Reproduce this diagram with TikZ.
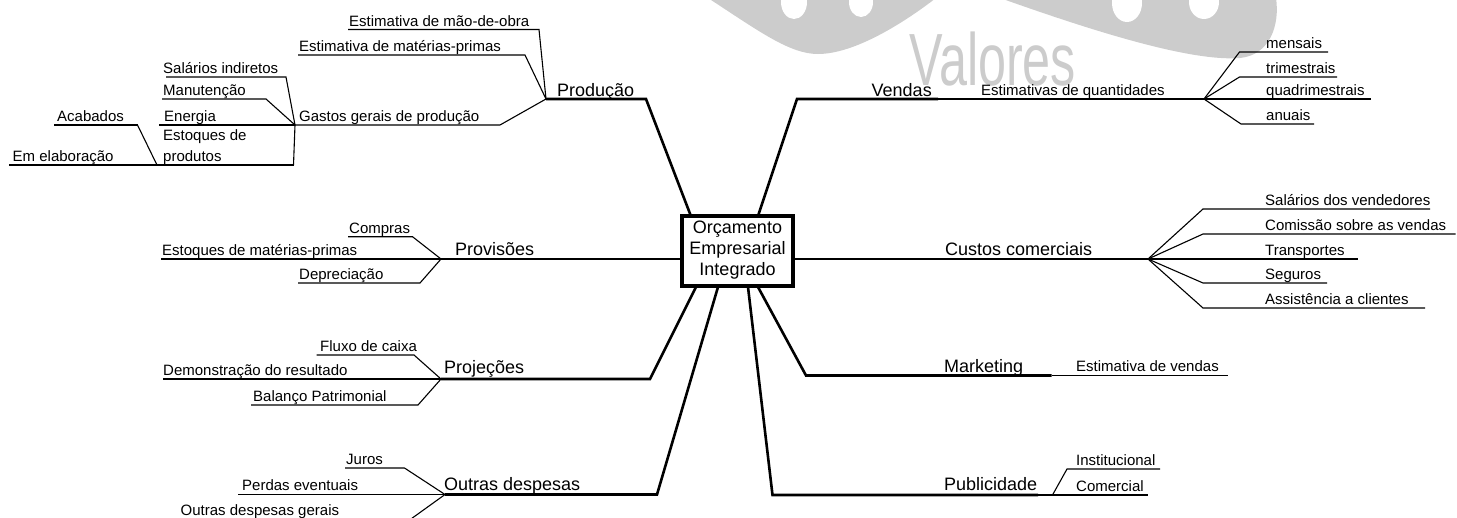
\documentclass[tikz,border=0pt]{standalone}
\usepackage{fontspec}
\setmainfont{Liberation Sans}
\begin{document}
\begin{tikzpicture}[x=1pt,y=-1pt,
  thk/.style={line width=2.6pt},
  thn/.style={line width=1.1pt},
  sub/.style={anchor=base west, inner sep=0pt, font=\fontsize{15}{21}\selectfont},
  mainlbl/.style={anchor=base west, inner sep=0pt, font=\fontsize{18}{21}\selectfont},
  box/.style={draw, line width=4pt, minimum width=111pt, minimum height=70pt, inner sep=0pt, align=center, font=\fontsize{18}{21}\selectfont},
  wm/.style={fill=black!20},
  wmtext/.style={anchor=base west, inner sep=0pt, text=black!20, font=\fontsize{74}{74}\selectfont}
]
\useasboundingbox (0,0) rectangle (1457,517);
% watermark
\fill[wm] (708,-2) .. controls (760,32) and (790,54) .. (818,54) .. controls (855,54) and (905,22) .. (936,-2) -- cycle;
\fill[white] (794,2) ellipse [x radius=13, y radius=17];
\fill[white] (861,2) ellipse [x radius=12, y radius=15];
\fill[wm] (1000,-2) .. controls (1090,30) and (1190,62) .. (1240,58) .. controls (1270,55) and (1280,25) .. (1276,-2) -- cycle;
\fill[white] (1127,3) ellipse [x radius=15, y radius=19];
\fill[white] (1204,2) ellipse [x radius=15, y radius=17];
\node[wmtext] (wmv) at (909,85) {\scalebox{0.68}[1]{Valores}};

% central box
\node[box] (box) at (737.5,250.5) {Orçamento\\Empresarial\\Integrado};

% ---------- Produção ----------
\coordinate (bProd) at (690.5,215);
\coordinate (prodA) at (646,99);
\coordinate (Jprod) at (546,99);
\draw[thk] (bProd) -- (prodA) -- (Jprod);
\node[mainlbl] (tProd) at (557,96) {Produção};
\coordinate (moA) at (348,29.5); \coordinate (moB) at (539,29.5);
\draw[thn] (moA) -- (moB) -- (Jprod);
\node[sub] (tmo) at (349,26) {Estimativa de mão-de-obra};
\coordinate (mpA) at (298,55); \coordinate (mpB) at (525,55);
\draw[thn] (mpA) -- (mpB) -- (Jprod);
\node[sub] (tmp) at (299,51) {Estimativa de matérias-primas};
\coordinate (gA) at (500,125); \coordinate (Jgas) at (295,125);
\draw[thn] (Jprod) -- (gA) -- (Jgas);
\node[sub] (tg) at (299,121) {Gastos gerais de produção};
\coordinate (siA) at (166,77); \coordinate (siB) at (286,77);
\draw[thn] (siA) -- (siB) -- (Jgas);
\node[sub] (tsi) at (163,73) {Salários indiretos};
\coordinate (maA) at (162,99); \coordinate (maB) at (266,99);
\draw[thn] (maA) -- (maB) -- (Jgas);
\node[sub] (tma) at (163,95) {Manutenção};
\coordinate (enA) at (159,125);
\draw[thk] (enA) -- (Jgas);
\node[sub] (ten) at (164,121) {Energia};
\coordinate (esA) at (293.5,165); \coordinate (esB) at (9,165);
\draw[thn] (Jgas) -- (esA);
\draw[thk] (esA) -- (esB);
\node[sub, align=left] (tes) at (163,161) {Estoques de\\produtos};
\coordinate (acA) at (54,125); \coordinate (acB) at (137.5,125); \coordinate (acC) at (157,165);
\draw[thk] (acA) -- (acB);
\draw[thn] (acB) -- (acC);
\node[sub] (tac) at (57,121) {Acabados};
\node[sub] (tel) at (12.5,161) {Em elaboração};

% ---------- Vendas ----------
\coordinate (bVen) at (758.3,215);
\coordinate (venA) at (797,99);
\coordinate (venB) at (938,99);
\coordinate (Jven) at (1204,99);
\draw[thk] (bVen) -- (venA) -- (venB);
\draw[thn] (venB) -- (Jven);
\node[mainlbl] (tVen) at (871.5,96) {Vendas};
\node[sub] (tvq) at (981,95) {Estimativas de quantidades};
\coordinate (meA) at (1239.5,52); \coordinate (meB) at (1328,52);
\draw[thn] (Jven) -- (meA) -- (meB);
\node[sub] (tme) at (1266,48) {mensais};
\coordinate (trA) at (1239.5,77); \coordinate (trB) at (1337,77);
\draw[thn] (Jven) -- (trA) -- (trB);
\node[sub] (ttr) at (1266,73) {trimestrais};
\coordinate (quB) at (1371,99);
\draw[thn] (Jven) -- (quB);
\node[sub] (tqu) at (1266,95) {quadrimestrais};
\coordinate (anA) at (1241,124); \coordinate (anB) at (1314,124);
\draw[thn] (Jven) -- (anA) -- (anB);
\node[sub] (tan) at (1266,120) {anuais};

% ---------- Provisões ----------
\coordinate (bProv) at (682,259);
\coordinate (Jprov) at (441,259);
\draw[thk] (bProv) -- (Jprov);
\node[mainlbl] (tProv) at (455,255) {Provisões};
\coordinate (coA) at (348,236.7); \coordinate (coB) at (412.5,236.7);
\draw[thn] (coA) -- (coB) -- (Jprov);
\node[sub] (tco) at (349,233) {Compras};
\coordinate (emA) at (161,259);
\draw[thn] (emA) -- (Jprov);
\node[sub] (tem) at (162,255) {Estoques de matérias-primas};
\coordinate (deA) at (298,283); \coordinate (deB) at (420,283);
\draw[thn] (deA) -- (deB) -- (Jprov);
\node[sub] (tde) at (299,279) {Depreciação};

% ---------- Custos comerciais ----------
\coordinate (bCus) at (793,259);
\coordinate (Jcus) at (1148,259);
\draw[thk] (bCus) -- (Jcus);
\node[mainlbl] (tCus) at (945,255) {Custos comerciais};
\coordinate (svA) at (1203,209); \coordinate (svB) at (1430,209);
\draw[thn] (Jcus) -- (svA) -- (svB);
\node[sub] (tsv) at (1265,205) {Salários dos vendedores};
\coordinate (cvA) at (1203,234); \coordinate (cvB) at (1455.5,234);
\draw[thn] (Jcus) -- (cvA) -- (cvB);
\node[sub] (tcv) at (1265,230) {Comissão sobre as vendas};
\coordinate (tpB) at (1357.5,259);
\draw[thn] (Jcus) -- (tpB);
\node[sub] (ttp) at (1265,255) {Transportes};
\coordinate (sgA) at (1203,283); \coordinate (sgB) at (1327,283);
\draw[thn] (Jcus) -- (sgA) -- (sgB);
\node[sub] (tsg) at (1265,279) {Seguros};
\coordinate (asA) at (1203,308); \coordinate (asB) at (1425,308);
\draw[thn] (Jcus) -- (asA) -- (asB);
\node[sub] (tas) at (1265,304) {Assistência a clientes};

% ---------- Projeções ----------
\coordinate (bProj) at (696,287);
\coordinate (projA) at (650,379);
\coordinate (Jproj) at (441,379);
\draw[thk] (bProj) -- (projA) -- (Jproj);
\node[mainlbl] (tProj) at (444,373.5) {Projeções};
\coordinate (fcA) at (316.5,355); \coordinate (fcB) at (414,355);
\draw[thn] (fcA) -- (fcB) -- (Jproj);
\node[sub] (tfc) at (320,351) {Fluxo de caixa};
\coordinate (drA) at (163,379);
\draw[thn] (drA) -- (Jproj);
\node[sub] (tdr) at (163,375) {Demonstração do resultado};
\coordinate (bpA) at (251,405); \coordinate (bpB) at (418,405);
\draw[thn] (bpA) -- (bpB) -- (Jproj);
\node[sub] (tbp) at (253,401) {Balanço Patrimonial};

% ---------- Marketing ----------
\coordinate (bMkt) at (758,287);
\coordinate (mktA) at (806,375.5);
\coordinate (mktB) at (1051.5,375.5);
\coordinate (evB) at (1228,375.5);
\draw[thk] (bMkt) -- (mktA) -- (mktB);
\draw[thn] (mktB) -- (evB);
\node[mainlbl] (tMkt) at (944,372) {Marketing};
\node[sub] (tev) at (1076,371.5) {Estimativa de vendas};

% ---------- Outras despesas ----------
\coordinate (bOut) at (718,287);
\coordinate (outA) at (657,494.5);
\coordinate (Jout) at (445,494.5);
\draw[thk] (bOut) -- (outA) -- (Jout);
\node[mainlbl] (tOut) at (444,490) {Outras despesas};
\coordinate (juA) at (345,468); \coordinate (juB) at (404.5,468);
\draw[thn] (juA) -- (juB) -- (Jout);
\node[sub] (tju) at (346,464) {Juros};
\coordinate (peA) at (238,494.5);
\draw[thn] (peA) -- (Jout);
\node[sub] (tpe) at (242,490.5) {Perdas eventuais};
\coordinate (ogA) at (404,524);
\draw[thn] (Jout) -- (ogA);
\node[sub] (tog) at (180.5,515.5) {Outras despesas gerais};

% ---------- Publicidade ----------
\coordinate (bPub) at (748,287);
\coordinate (pubA) at (772.5,495);
\coordinate (pubB) at (1038,495);
\coordinate (coB2) at (1148,495);
\draw[thk] (bPub) -- (pubA) -- (pubB);
\draw[thn] (pubB) -- (coB2);
\node[mainlbl] (tPub) at (944,490.5) {Publicidade};
\coordinate (inA) at (1052.5,495); \coordinate (inB) at (1067,469); \coordinate (inC) at (1160,469);
\draw[thn] (inA) -- (inB) -- (inC);
\node[sub] (tin) at (1076,465) {Institucional};
\node[sub] (tcm) at (1076,491) {Comercial};
\end{tikzpicture}
\end{document}
